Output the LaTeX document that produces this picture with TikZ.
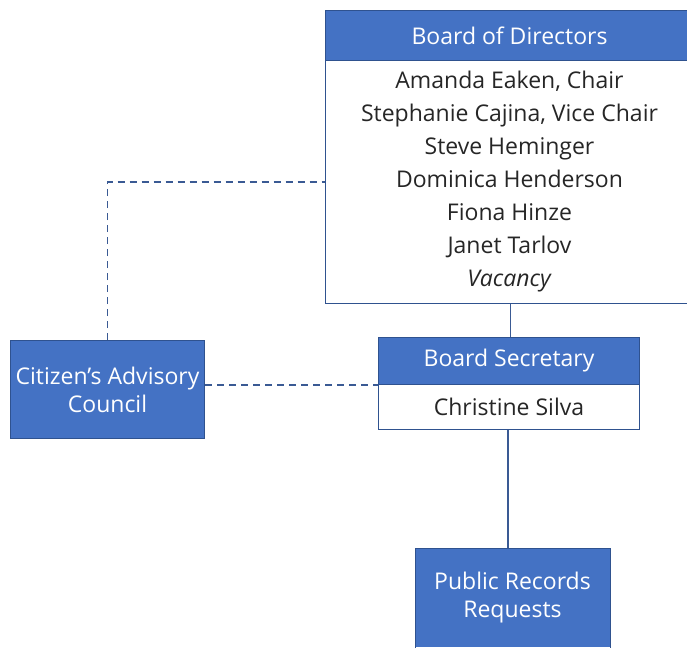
\documentclass[tikz,border=0pt]{standalone}
\usepackage{fontspec}
\setmainfont{Open Sans}
\definecolor{hdrblue}{HTML}{4472C4}
\definecolor{edgeblue}{HTML}{2F528F}
\definecolor{linkblue}{HTML}{3A5A94}
\definecolor{txtgray}{HTML}{262626}
\begin{document}
\begin{tikzpicture}[x=1pt,y=-1pt,
  box/.style={draw=edgeblue,line width=1pt,inner sep=0pt,anchor=north west,align=center},
  hdr/.style={box,fill=hdrblue,text=white},
  bod/.style={box,fill=white,text=txtgray},
  solidlink/.style={draw=linkblue,line width=1.6pt},
  dashlink/.style={draw=linkblue,line width=1.6pt,dash pattern=on 7pt off 5pt}]
\useasboundingbox (0,0) rectangle (687,647);
\clip (0,0) rectangle (687,647);
% Board of Directors
\node[hdr,minimum width=368pt,minimum height=50pt,font=\fontsize{23}{28}\selectfont] (bdH) at (325,10) {Board of Directors};
\node[bod,minimum width=368pt,minimum height=243pt,font=\fontsize{23}{33}\selectfont] (bdB) at (325,60)
  {Amanda Eaken, Chair\\Stephanie Cajina, Vice Chair\\Steve Heminger\\Dominica Henderson\\Fiona Hinze\\Janet Tarlov\\\textit{Vacancy}};
% Board Secretary
\node[hdr,minimum width=261pt,minimum height=47pt,font=\fontsize{23}{28}\selectfont] (secH) at (378,337) {Board Secretary};
\node[bod,minimum width=261pt,minimum height=45pt,font=\fontsize{23}{28}\selectfont] (secB) at (378,384) {Christine Silva};
% Citizen's Advisory Council
\node[hdr,minimum width=194pt,minimum height=98pt,font=\fontsize{23}{28}\selectfont] (cac) at (10,340) {Citizen’s Advisory\\Council};
% Public Records Requests (cut off at the bottom edge)
\node[hdr,draw=none,minimum width=194pt,minimum height=98pt,font=\fontsize{23}{28}\selectfont] (pub) at (415,548) {Public Records\\Requests};
\draw[draw=edgeblue,line width=1pt] ([yshift=-4pt]pub.south west) -- (pub.north west) -- (pub.north east) -- ([yshift=-4pt]pub.south east);
% connectors
\draw[solidlink] ([xshift=1pt]bdB.south) -- ([xshift=1pt]bdB.south |- secH.north);
\draw[solidlink] ([xshift=-1pt]secB.south) -- ([xshift=-1pt]secB.south |- pub.north);
\draw[dashlink] (cac.north) |- (bdB.west);
\draw[dashlink] (cac.east |- secH.south west) -- (secH.south west);
\end{tikzpicture}
\end{document}
